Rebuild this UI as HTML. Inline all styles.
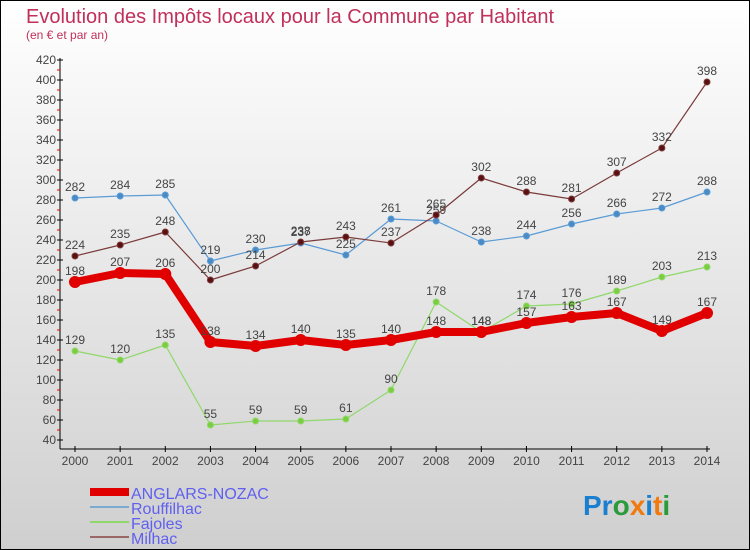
<!DOCTYPE html>
<html><head><meta charset="utf-8"><style>
body{margin:0;}
svg{display:block;font-family:"Liberation Sans",sans-serif;}
</style></head><body>
<svg id="c" width="750" height="550">
<defs><linearGradient id="bg" x1="0" y1="0" x2="0" y2="1"><stop offset="0" stop-color="#ffffff"/><stop offset="1" stop-color="#cfcfcf"/></linearGradient></defs>
<rect x="0.5" y="0.5" width="749" height="549" fill="url(#bg)" stroke="#000"/>
<text x="26" y="23" font-size="20" fill="#c0305a">Evolution des Impôts locaux pour la Commune par Habitant</text>
<text x="26" y="39" font-size="12" fill="#c0305a">(en € et par an)</text>
<g id="axes"></g>
<g id="series"></g>
<g id="legend"></g>
<text x="583" y="515" font-size="28" font-weight="bold"><tspan fill="#1a7fd0">Pr</tspan><tspan fill="#2a9a3a">o</tspan><tspan fill="#f07a10">x</tspan><tspan fill="#1a7fd0">i</tspan><tspan fill="#f07a10">t</tspan><tspan fill="#2a9a3a">i</tspan></text>
</svg>
<script>
const years=[2000,2001,2002,2003,2004,2005,2006,2007,2008,2009,2010,2011,2012,2013,2014];
const anglars=[198,207,206,138,134,140,135,140,148,148,157,163,167,149,167];
const rouffilhac=[282,284,285,219,230,237,225,261,259,238,244,256,266,272,288];
const fajoles=[129,120,135,55,59,59,61,90,178,148,174,176,189,203,213];
const milhac=[224,235,248,200,214,238,243,237,265,302,288,281,307,332,398];
const yTicks=[40,60,80,100,120,140,160,180,200,220,240,260,280,300,320,340,360,380,400,420];
const NS="http://www.w3.org/2000/svg";
const X=i=>75+i*(707-75)/(years.length-1);
const Y=v=>440-(v-40)*(380/380);
function mk(tag,attrs,parent,txt){const e=document.createElementNS(NS,tag);for(const k in attrs)e.setAttribute(k,attrs[k]);if(txt!==undefined)e.textContent=txt;parent.appendChild(e);return e;}
const ax=document.getElementById('axes');
let e=mk('line',{x1:60,y1:58,x2:60,y2:449,stroke:'#000'},ax);


e=mk('line',{x1:60,y1:449,x2:710,y2:449,stroke:'#000'},ax);


yTicks.forEach(v=>{
 const t=mk('line',{x1:57,y1:Y(v),x2:63,y2:Y(v),stroke:'#000'},ax);
 
 
 if(v<420){const m=mk('line',{x1:57,y1:Y(v+10),x2:60,y2:Y(v+10),stroke:'#e00'},ax);
 
 }
 const l=mk('text',{x:56,y:Y(v)+4,'text-anchor':'end','font-size':12,fill:'#444'},ax,String(v));
 
 
});
years.forEach((y,i)=>{
 const t=mk('line',{x1:X(i),y1:446,x2:X(i),y2:452,stroke:'#000'},ax);
 
 
 const l=mk('text',{x:X(i),y:465,'text-anchor':'middle','font-size':12,fill:'#444'},ax,String(y));
 
 
});
const sg=document.getElementById('series');
function draw(vals,color,dot,w,r,name){
 const g=mk('g',{},sg);
 
 
 const p=mk('polyline',{points:vals.map((v,i)=>X(i)+','+Y(v)).join(' '),fill:'none',stroke:color,'stroke-width':w,'stroke-linejoin':'round'},g);
 
 
 vals.forEach((v,i)=>{
  const c=mk('circle',{cx:X(i),cy:Y(v),r:r,fill:dot,stroke:color,'stroke-width':1},g);
  
  
  const t=mk('text',{x:X(i),y:Y(v)-7,'text-anchor':'middle','font-size':12,fill:'#444'},g,String(v));
  
  
 });
}
draw(rouffilhac,'#5a9bd5','#4a8bc5',1.2,3,'rouffilhac');
draw(milhac,'#7a3a3a','#5a1010',1.2,3,'milhac');
draw(fajoles,'#8fd86a','#7ccc40',1.2,3,'fajoles');
draw(anglars,'#e00000','#e00000',8,5.5,'anglars-nozac');
const lg=document.getElementById('legend');
const items=[['ANGLARS-NOZAC','#e00000',8,493],['Rouffilhac','#7aaad0',2,508],['Fajoles','#8fd86a',2,523],['Milhac','#9a6666',2,538]];
items.forEach(([n,c,w,y])=>{
 const g=mk('g',{},lg);
 
 
 const l=mk('line',{x1:90,y1:y-1,x2:129,y2:y-1,stroke:c,'stroke-width':w},g);
 
 
 const t=mk('text',{x:131,y:y+6,'font-size':16,fill:'#6060f0'},g,n);
 
 
});
</script>
</body></html>
